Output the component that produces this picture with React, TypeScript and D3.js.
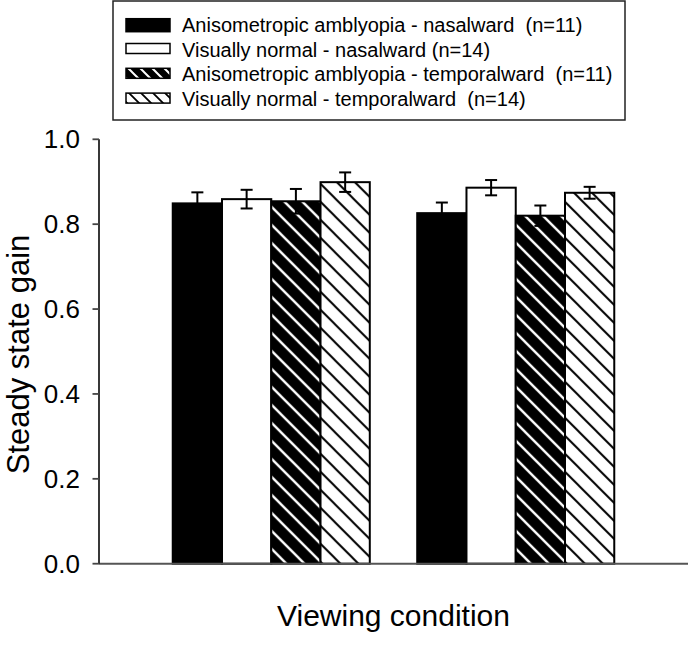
import React from "react";
import * as d3 from "d3";

const groups = ["Condition A", "Condition B"];
const seriesNames = [
  "Anisometropic amblyopia - nasalward  (n=11)",
  "Visually normal - nasalward (n=14)",
  "Anisometropic amblyopia - temporalward  (n=11)",
  "Visually normal - temporalward  (n=14)",
];
const aaNasal = [0.849, 0.826];
const vnNasal = [0.859, 0.886];
const aaTemporal = [0.854, 0.82];
const vnTemporal = [0.899, 0.874];
const aaNasalErr = [0.026, 0.025];
const vnNasalErr = [0.022, 0.018];
const aaTemporalErr = [0.029, 0.024];
const vnTemporalErr = [0.023, 0.014];
const yTicks = [0, 0.2, 0.4, 0.6, 0.8, 1.0];

const values = [aaNasal, vnNasal, aaTemporal, vnTemporal];
const errors = [aaNasalErr, vnNasalErr, aaTemporalErr, vnTemporalErr];
const fills = ["#000", "#fff", "url(#hatchBlack)", "url(#hatchWhite)"];

const FONT = "'Liberation Sans', Arial, Helvetica, sans-serif";

export default function App() {
  const W = 688, H = 661;
  const x0 = 99, x1 = 688, yTop = 139.3, yBot = 563.7;
  const y = d3.scaleLinear().domain([0, 1]).range([yBot, yTop]);
  const xg = d3.scaleBand().domain(groups).range([x0, x1]).paddingInner(0.194).paddingOuter(0.3016);
  const xs = d3.scaleBand().domain(seriesNames).range([0, xg.bandwidth()]);
  const hatchPath = "M-4.5,-4.5L22.5,22.5M13.5,-4.5L22.5,4.5M-4.5,13.5L4.5,22.5";

  return (
    <svg width={W} height={H} style={{ position: "absolute", left: 0, top: 0, background: "#fff" }} fontFamily={FONT}>
      <defs>
        <pattern id="hatchBlack" patternUnits="userSpaceOnUse" width={18} height={18}>
          <rect width={18} height={18} fill="#000" />
          <path d={hatchPath} stroke="#fff" strokeWidth={2.4} />
        </pattern>
        <pattern id="hatchWhite" patternUnits="userSpaceOnUse" width={18} height={18}>
          <rect width={18} height={18} fill="#fff" />
          <path d={hatchPath} stroke="#000" strokeWidth={2} />
        </pattern>
        <pattern id="hatchBlackL" patternUnits="userSpaceOnUse" width={12} height={12}>
          <rect width={12} height={12} fill="#000" />
          <path d="M-3,-3L15,15M9,-3L15,3M-3,9L3,15" stroke="#fff" strokeWidth={2} />
        </pattern>
        <pattern id="hatchWhiteL" patternUnits="userSpaceOnUse" width={12} height={12}>
          <rect width={12} height={12} fill="#fff" />
          <path d="M-3,-3L15,15M9,-3L15,3M-3,9L3,15" stroke="#000" strokeWidth={1.8} />
        </pattern>
      </defs>
      <rect width={W} height={H} fill="#fff" />

      {/* bars */}
      {groups.map((g, gi) => (
        <g key={g} transform={`translate(${xg(g)},0)`}>
          {seriesNames.map((s, si) => {
            const v = values[si][gi];
            const bx = xs(s)!;
            return (
              <rect key={s} x={bx} y={y(v)} width={xs.bandwidth()} height={y(0) - y(v)}
                fill={fills[si]} stroke="#000" strokeWidth={2} />
            );
          })}
          {seriesNames.map((s, si) => {
            const v = values[si][gi];
            const e = errors[si][gi];
            const cx = xs(s)! + xs.bandwidth() / 2;
            return (
              <g key={s + "e"} stroke="#000" strokeWidth={2}>
                <line x1={cx} x2={cx} y1={y(v - e)} y2={y(v + e)} />
                <line x1={cx - 6} x2={cx + 6} y1={y(v + e)} y2={y(v + e)} />
                <line x1={cx - 6} x2={cx + 6} y1={y(v - e)} y2={y(v - e)} />
              </g>
            );
          })}
        </g>
      ))}

      {/* axes */}
      <line x1={x0} x2={x1} y1={yBot} y2={yBot} stroke="#555" strokeWidth={2} />
      <line x1={x0} x2={x0} y1={yTop} y2={yBot} stroke="#222" strokeWidth={1.8} />
      {yTicks.map((t) => (
        <g key={t}>
          <line x1={x0 - 6.5} x2={x0} y1={y(t)} y2={y(t)} stroke="#444" strokeWidth={1.8} />
          <text x={80} y={y(t)} dy="0.35em" textAnchor="end" fontSize={26} fill="#000">
            {d3.format(".1f")(t)}
          </text>
        </g>
      ))}
      <text transform={`translate(29,${(yTop + yBot) / 2 + 3}) rotate(-90)`} textAnchor="middle" fontSize={31} fill="#000">
        Steady state gain
      </text>
      <text x={(x0 + x1) / 2} y={626} textAnchor="middle" fontSize={30} fill="#000">
        Viewing condition
      </text>

      {/* legend */}
      <rect x={113} y={1} width={512} height={119} fill="#fff" stroke="#222" strokeWidth={1.5} />
      {seriesNames.map((s, i) => {
        const base = 31.7 + i * 24.8;
        const sw = [ "#000", "#fff", "url(#hatchBlackL)", "url(#hatchWhiteL)" ][i];
        return (
          <g key={s}>
            <rect x={126} y={base - 13} width={44} height={i === 0 ? 13 : 10} fill={sw} stroke="#000" strokeWidth={1.5} />
            <text x={182} y={base} fontSize={20} fill="#000" style={{ whiteSpace: "pre" }}>
              {s}
            </text>
          </g>
        );
      })}
    </svg>
  );
}
